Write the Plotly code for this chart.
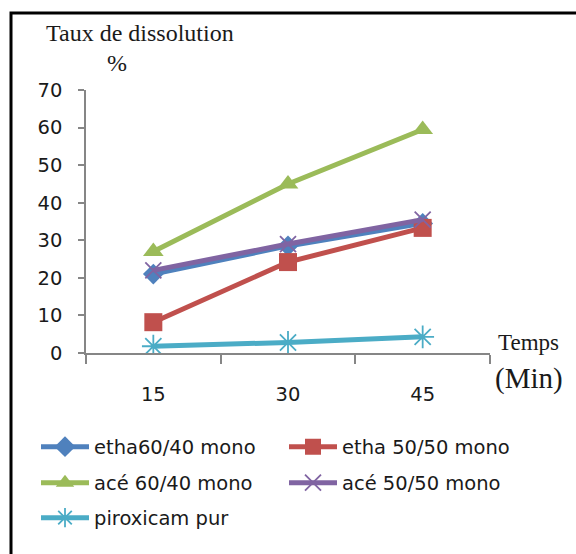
import plotly.graph_objects as go

# Dissolution data (time in minutes, % dissolved)
temps = ["15", "30", "45"]
etha_60_40 = [21, 28.5, 34.5]
etha_50_50 = [8.2, 24.2, 33.3]
ace_60_40 = [27, 45, 59.5]
ace_50_50 = [22, 29, 35.5]
piroxicam = [1.8, 2.8, 4.3]

series_names = ["etha60/40 mono", "etha 50/50 mono", "acé 60/40 mono",
                "acé 50/50 mono", "piroxicam pur"]

W, H = 576, 554
ML, MR, MT, MB = 86, 86, 90, 201
PW, PH = W - ML - MR, H - MT - MB


def px(x):
    return (x - ML) / PW


def py(y):
    return (H - MB - y) / PH


SANS = "'DejaVu Sans', Verdana, sans-serif"
SERIF = "'Liberation Serif', 'Times New Roman', serif"
TXT = "#1a1a1a"

styles = [
    dict(color="#4F81BD", symbol="diamond", size=16, open=False),
    dict(color="#C0504D", symbol="square", size=18, open=False),
    dict(color="#9BBB59", symbol="triangle-up", size=18, open=False),
    dict(color="#8064A2", symbol="x-thin-open", size=16, open=True),
    dict(color="#4BACC6", symbol="asterisk-open", size=19, open=True),
]
values = [etha_60_40, etha_50_50, ace_60_40, ace_50_50, piroxicam]

# one legend box per entry, laid out as a two-column grid
legend_ids = ["legend", "legend2", "legend3", "legend4", "legend5"]
legend_pos = [(36, 447), (284, 447), (36, 483), (284, 483), (36, 518)]

fig = go.Figure()
for name, vals, st, lg in zip(series_names, values, styles, legend_ids):
    marker = dict(symbol=st["symbol"], size=st["size"], color=st["color"])
    if st["open"]:
        marker["line"] = dict(color=st["color"], width=1.8)
    fig.add_trace(go.Scatter(
        x=temps, y=vals, name=name, mode="lines+markers",
        line=dict(color=st["color"], width=5),
        marker=marker, legend=lg,
    ))

legend_layout = {}
for lg, (lx, ly) in zip(legend_ids, legend_pos):
    legend_layout[lg] = dict(
        x=px(lx), y=py(ly), xanchor="left", yanchor="middle",
        orientation="v", itemwidth=48,
        font=dict(family=SANS, size=19.5, color=TXT),
        bgcolor="rgba(0,0,0,0)",
    )

fig.update_layout(
    width=W, height=H,
    margin=dict(l=ML, r=MR, t=MT, b=MB),
    paper_bgcolor="white", plot_bgcolor="white",
    showlegend=True,
    **legend_layout,
    xaxis=dict(
        type="category", range=[-0.5, 2.5],
        showline=True, linecolor="#868686", linewidth=1.5,
        ticks="outside", tickson="boundaries", ticklen=9,
        tickcolor="#868686", tickwidth=1.5,
        showgrid=False, zeroline=False,
        tickfont=dict(family=SANS, size=19.5, color=TXT),
        ticklabelstandoff=23,
    ),
    yaxis=dict(
        range=[0, 70], dtick=10,
        showline=True, linecolor="#868686", linewidth=1.5,
        ticks="outside", ticklen=6, tickcolor="#868686", tickwidth=1.5,
        showgrid=False, zeroline=False,
        tickfont=dict(family=SANS, size=19.5, color=TXT),
        ticklabelstandoff=12,
    ),
    shapes=[
        # outer frame of the figure (top and left edges visible)
        dict(type="rect", xref="paper", yref="paper",
             x0=px(11), x1=px(W + 20), y0=py(H + 20), y1=py(13),
             line=dict(color="black", width=3), fillcolor="rgba(0,0,0,0)",
             layer="below"),
    ],
    annotations=[
        dict(text="Taux de dissolution", xref="paper", yref="paper",
             x=px(44), y=py(33), xanchor="left", yanchor="middle",
             showarrow=False, font=dict(family=SERIF, size=24, color=TXT)),
        dict(text="%", xref="paper", yref="paper",
             x=px(117), y=py(63), xanchor="center", yanchor="middle",
             showarrow=False, font=dict(family=SERIF, size=24, color=TXT)),
        dict(text="Temps", xref="paper", yref="paper",
             x=px(528), y=py(342), xanchor="center", yanchor="middle",
             showarrow=False, font=dict(family=SERIF, size=23, color=TXT)),
        dict(text="(Min)", xref="paper", yref="paper",
             x=px(529), y=py(378), xanchor="center", yanchor="middle",
             showarrow=False, font=dict(family=SERIF, size=29, color=TXT)),
    ],
)

fig.write_html("out.html")
